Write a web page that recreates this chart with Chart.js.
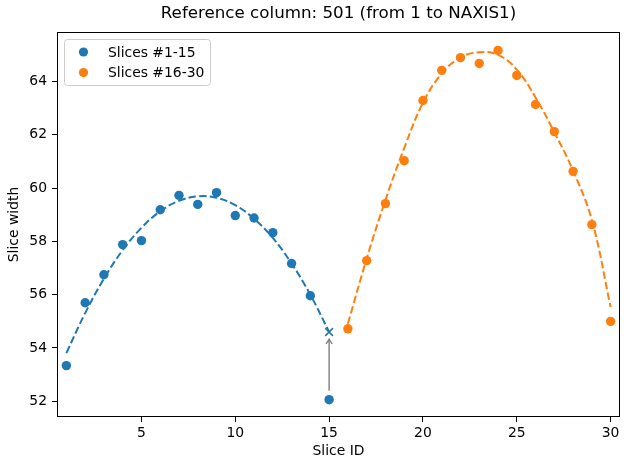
<!DOCTYPE html>
<html>
<head>
<meta charset="utf-8">
<script src="https://cdn.jsdelivr.net/npm/chart.js@4/dist/chart.umd.min.js"></script>
<style>
html, body { margin: 0; padding: 0; background: #fff; }
</style>
</head>
<body>
<canvas id="chart" width="629" height="470"></canvas>
<script>
// measured slice widths
var slicesA = [1, 2, 3, 4, 5, 6, 7, 8, 9, 10, 11, 12, 13, 14, 15];
var widthsA = [53.34, 55.70, 56.75, 57.88, 58.03, 59.19, 59.73, 59.39, 59.83, 58.97, 58.88, 58.33, 57.17, 55.96, 52.06];
var slicesB = [16, 17, 18, 19, 20, 21, 22, 23, 24, 25, 26, 27, 28, 29, 30];
var widthsB = [54.72, 57.28, 59.42, 61.03, 63.29, 64.42, 64.90, 64.68, 65.17, 64.23, 63.14, 62.12, 60.63, 58.63, 55.00];

// dashed fit curves at each slice
var fitA = [53.81, 55.31, 56.60, 57.67, 58.51, 59.13, 59.52, 59.69, 59.64, 59.36, 58.85, 58.13, 57.17, 56.00, 54.60];
var fitB = [54.91, 57.35, 59.55, 61.50, 63.20, 64.30, 64.90, 65.10, 65.00, 64.45, 63.40, 62.10, 60.65, 58.80, 55.54];

// replaced value for the outlier slice
var fixedSlice = [15];
var fixedWidth = [54.60];

var xTicks = [5, 10, 15, 20, 25, 30];
var yTicks = [52, 54, 56, 58, 60, 62, 64];

var blue = '#1f77b4';
var orange = '#ff7f0e';
var font = 'DejaVu Sans';

function pts(xs, ys) {
	return xs.map(function(x, i){ return {x: x, y: ys[i]}; });
}

var extras = {
	id: 'extras',
	afterDraw: function(chart) {
		var ctx = chart.ctx;
		var a = chart.chartArea;
		var sx = chart.scales.x, sy = chart.scales.y;
		ctx.save();

		// arrow from the outlier up to the corrected value
		var ax = sx.getPixelForValue(fixedSlice[0]);
		var y0 = sy.getPixelForValue(widthsA[14]) - 9;
		var y1 = sy.getPixelForValue(fixedWidth[0]) + 7;
		ctx.strokeStyle = '#808080';
		ctx.lineWidth = 1.4;
		ctx.beginPath();
		ctx.moveTo(ax, y0);
		ctx.lineTo(ax, y1);
		ctx.moveTo(ax - 3, y1 + 5);
		ctx.lineTo(ax, y1);
		ctx.lineTo(ax + 3, y1 + 5);
		ctx.stroke();

		// frame
		ctx.strokeStyle = '#000';
		ctx.lineWidth = 1;
		ctx.strokeRect(Math.round(a.left) + 0.5, Math.round(a.top) + 0.5,
			Math.round(a.right - a.left) - 1, Math.round(a.bottom - a.top) - 1);

		// title
		ctx.fillStyle = '#000';
		ctx.font = '16.7px "' + font + '"';
		ctx.textAlign = 'center';
		ctx.textBaseline = 'middle';
		ctx.fillText('Reference column: 501 (from 1 to NAXIS1)', (a.left + a.right) / 2, 14);

		// legend inside the axes
		var lx = a.left + 7, ly = a.top + 7, lw = 146, lh = 46;
		ctx.fillStyle = 'rgba(255,255,255,0.8)';
		ctx.strokeStyle = '#cccccc';
		ctx.beginPath();
		ctx.roundRect(lx + 0.5, ly + 0.5, lw, lh, 3);
		ctx.fill();
		ctx.stroke();
		ctx.font = '13.9px "' + font + '"';
		ctx.textAlign = 'left';
		[0, 1].forEach(function(di, i) {
			var ds = chart.data.datasets[di];
			var cy = ly + 13 + i * 20.6;
			ctx.fillStyle = ds.backgroundColor;
			ctx.beginPath();
			ctx.arc(lx + 19.5, cy, 4.6, 0, Math.PI * 2);
			ctx.fill();
			ctx.fillStyle = '#000';
			ctx.fillText(ds.label, lx + 44, cy + 1);
		});
		ctx.restore();
	}
};

var ctx = document.getElementById('chart').getContext('2d');
var chart = new Chart(ctx, {
	type: 'scatter',
	data: {
		datasets: [{
			label: 'Slices #1-15',
			data: pts(slicesA, widthsA),
			backgroundColor: blue,
			borderColor: blue,
			pointRadius: 4.7,
			borderWidth: 0,
			order: 2
		}, {
			label: 'Slices #16-30',
			data: pts(slicesB, widthsB),
			backgroundColor: orange,
			borderColor: orange,
			pointRadius: 4.7,
			borderWidth: 0,
			order: 2
		}, {
			label: 'fitA',
			data: pts(slicesA, fitA),
			showLine: true,
			borderColor: blue,
			borderWidth: 2,
			borderDash: [7.5, 3.2],
			tension: 0.4,
			pointRadius: 0,
			order: 1
		}, {
			label: 'fitB',
			data: pts(slicesB, fitB),
			showLine: true,
			borderColor: orange,
			borderWidth: 2,
			borderDash: [7.5, 3.2],
			tension: 0.4,
			pointRadius: 0,
			order: 1
		}, {
			label: 'fixed',
			data: pts(fixedSlice, fixedWidth),
			pointStyle: 'crossRot',
			pointRadius: 5.5,
			borderColor: blue,
			borderWidth: 1.5,
			order: 0
		}]
	},
	options: {
		responsive: false,
		animation: false,
		devicePixelRatio: 1,
		layout: { padding: { top: 32, right: 9, left: 0, bottom: 0 } },
		plugins: {
			legend: { display: false },
			tooltip: { enabled: false }
		},
		scales: {
			x: {
				type: 'linear',
				min: 0.5,
				max: 30.5,
				afterBuildTicks: function(s){ s.ticks = xTicks.map(function(v){ return {value: v}; }); },
				afterFit: function(s){ s.height = 53; },
				grid: { drawOnChartArea: false, drawTicks: true, tickLength: 5, color: '#000' },
				border: { display: false },
				ticks: { color: '#000', padding: 3, maxRotation: 0, font: { family: font, size: 13.9 } },
				title: { display: true, text: 'Slice ID', color: '#000', padding: { top: 0, bottom: 10 }, font: { family: font, size: 13.9 } }
			},
			y: {
				type: 'linear',
				min: 51.41,
				max: 65.86,
				afterBuildTicks: function(s){ s.ticks = yTicks.map(function(v){ return {value: v}; }); },
				afterFit: function(s){ s.width = 57; },
				grid: { drawOnChartArea: false, drawTicks: true, tickLength: 5, color: '#000' },
				border: { display: false },
				ticks: { color: '#000', padding: 5, font: { family: font, size: 13.9 } },
				title: { display: true, text: 'Slice width', color: '#000', padding: { top: 6, bottom: 0 }, font: { family: font, size: 13.9 } }
			}
		}
	},
	plugins: [extras]
});
</script>
</body>
</html>
